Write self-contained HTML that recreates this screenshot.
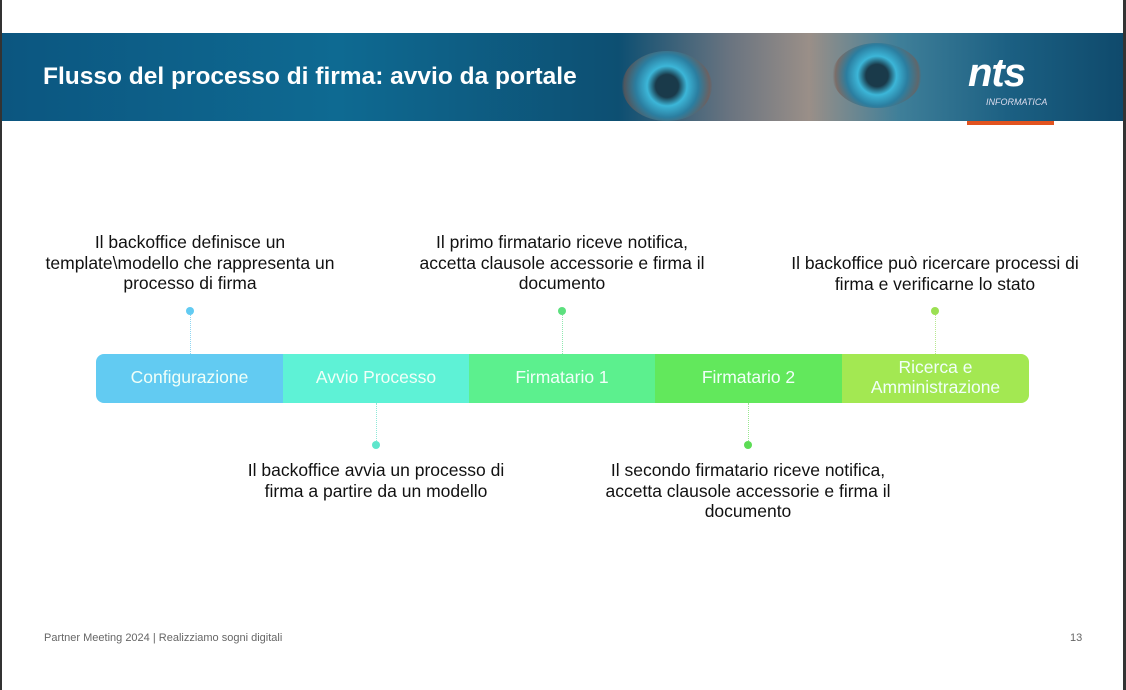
<!DOCTYPE html>
<html><head><meta charset="utf-8"><style>
body{margin:0;width:1126px;height:690px;background:#fff;position:relative;overflow:hidden;font-family:"Liberation Sans",sans-serif}
.bl{position:absolute;left:0;top:0;width:2px;height:690px;background:#333}
.br{position:absolute;right:0;top:0;width:3px;height:690px;background:#333}
.banner{position:absolute;left:2px;top:33px;width:1121px;height:88px;
background:linear-gradient(90deg,#0c5680 0%,#0e6a92 30%,#0d4f72 55%,#6a7480 65%,#9a8f88 72%,#3f7f99 80%,#1b5f82 90%,#0f4a6c 100%)}
.eye{position:absolute;border-radius:50%;background:radial-gradient(circle,#1a3a4a 0 20%,#3cb6d8 35%,#2b7ea0 55%,rgba(120,90,80,.6) 75%,transparent 80%)}
.title{position:absolute;left:43px;top:63px;color:#fff;font-weight:bold;font-size:24.5px}
.logo{position:absolute;left:968px;top:53px;color:#fff;font-weight:bold;font-style:italic;font-size:40px;letter-spacing:-1px;line-height:40px}
.inf{position:absolute;left:986px;top:97px;color:#dde;font-size:9px;font-style:italic}
.orange{position:absolute;left:967px;top:121px;width:87px;height:4px;background:#e2531f}
.seg{position:absolute;top:354px;height:45px;padding-bottom:4px;color:#f0fff8;font-size:17.5px;display:flex;align-items:center;justify-content:center;text-align:center;line-height:20px}
.t{position:absolute;font-size:17.5px;color:#111;text-align:center;line-height:20.5px}
.dot{position:absolute;width:8px;height:8px;border-radius:50%}
.ln{position:absolute;width:0;border-left:1px dotted}
.foot{position:absolute;top:632px;font-size:11px;color:#666}
</style></head><body>
<div class="bl"></div><div class="br"></div>
<div class="banner">
<div class="eye" style="left:620px;top:18px;width:90px;height:70px"></div>
<div class="eye" style="left:830px;top:10px;width:90px;height:65px"></div>
</div>
<div class="title">Flusso del processo di firma: avvio da portale</div>
<div class="logo">nts</div><div class="inf">INFORMATICA</div>
<div class="orange"></div>

<div class="seg" style="left:96px;width:187px;background:#62cbf2;border-radius:8px 0 0 8px">Configurazione</div>
<div class="seg" style="left:283px;width:186px;background:#5ef2d6">Avvio Processo</div>
<div class="seg" style="left:469px;width:186px;background:#5cf08e">Firmatario 1</div>
<div class="seg" style="left:655px;width:187px;background:#62e85c">Firmatario 2</div>
<div class="seg" style="left:842px;width:187px;background:#a3e852;border-radius:0 8px 8px 0">Ricerca e<br>Amministrazione</div>

<div class="ln" style="left:190px;top:315px;height:39px;border-color:#8fd6f2"></div><div class="dot" style="left:186px;top:307px;background:#62cbf2"></div>
<div class="ln" style="left:562px;top:315px;height:39px;border-color:#8fe8b0"></div><div class="dot" style="left:558px;top:307px;background:#5ce07e"></div>
<div class="ln" style="left:935px;top:315px;height:39px;border-color:#b8e890"></div><div class="dot" style="left:931px;top:307px;background:#9be052"></div>
<div class="ln" style="left:376px;top:403px;height:38px;border-color:#8fe8d8"></div><div class="dot" style="left:372px;top:441px;background:#5ee6cc"></div>
<div class="ln" style="left:748px;top:403px;height:38px;border-color:#9ae890"></div><div class="dot" style="left:744px;top:441px;background:#5cdc55"></div>

<div class="t" style="left:0px;width:380px;top:232px">Il backoffice definisce un<br>template\modello che rappresenta un<br>processo di firma</div>
<div class="t" style="left:372px;width:380px;top:232px">Il primo firmatario riceve notifica,<br>accetta clausole accessorie e firma il<br>documento</div>
<div class="t" style="left:745px;width:380px;top:253px">Il backoffice può ricercare processi di<br>firma e verificarne lo stato</div>
<div class="t" style="left:186px;width:380px;top:460px">Il backoffice avvia un processo di<br>firma a partire da un modello</div>
<div class="t" style="left:558px;width:380px;top:460px">Il secondo firmatario riceve notifica,<br>accetta clausole accessorie e firma il<br>documento</div>

<div class="foot" style="left:44px">Partner Meeting 2024 | Realizziamo sogni digitali</div>
<div class="foot" style="left:1070px">13</div>
</body></html>
